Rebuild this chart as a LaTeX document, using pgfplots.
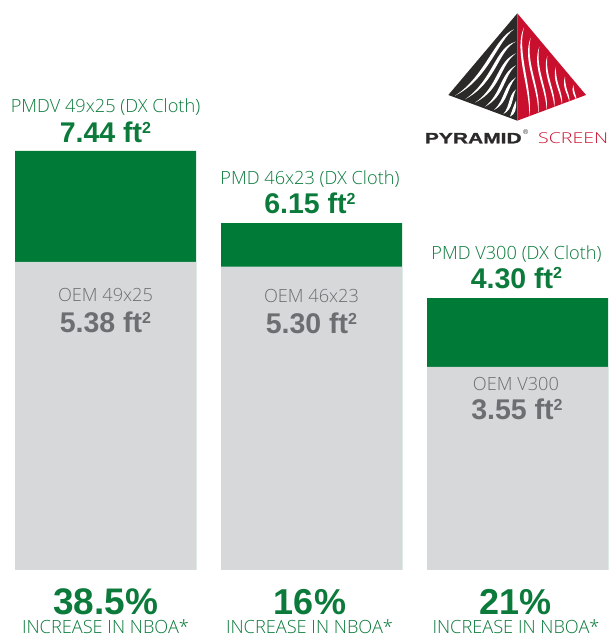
\documentclass[border=0pt]{standalone}
\usepackage{pgfplots}
\pgfplotsset{compat=1.18}
\usepackage{fontspec}
\setmainfont{Liberation Sans}
\newfontfamily\lightf{Open Sans Light}
\newfontfamily\heavyf[FakeBold=1.0]{Liberation Sans Bold}
\definecolor{pgreen}{HTML}{007A37}
\definecolor{tgreen}{HTML}{0B7A3B}
\definecolor{lgreen}{HTML}{0B7A3B}
\definecolor{pgray}{HTML}{D7D8DA}
\definecolor{tgray}{HTML}{6D6E71}
\definecolor{lgray}{HTML}{6D6E71}
\definecolor{pred}{HTML}{C8102E}
\definecolor{pblack}{HTML}{2B2A29}
\newcommand{\sq}{\raisebox{9.5pt}{\fontsize{16}{16}\selectfont 2}}
\newcommand{\thin}[3]{\node[anchor=base,text=#3,inner sep=0pt,font=\lightf\fontsize{18.2}{20}\selectfont] at (#1) {#2};}
\newcommand{\fat}[4]{\node[anchor=base,text=#3,inner sep=0pt,font=\bfseries\fontsize{#4}{30}\selectfont] at (#1) {#2};}
\newcommand{\streak}[8]{\fill[white] (#1,#2) .. controls (#3,#4) and (#5,#6) .. (#7,#8) .. controls (#5+10,#6+8) and (#3+10,#4+9) .. (#1,#2) -- cycle;}
\pgfplotstableread{
x pmd oem
0 7.32 5.38
1 6.06 5.30
2 4.75 3.55
}\nboa
\begin{document}
\begin{tikzpicture}[x=1pt,y=1pt]
\path[use as bounding box] (0,0) rectangle (610,637);
\begin{axis}[
  at={(0,0)},anchor=south west,scale only axis,width=610pt,height=637pt,
  xmin=-0.51214,xmax=2.44903,ymin=-1.1703,ymax=9.9563,
  axis lines=none,clip=false,
  ybar,bar width=181pt,bar shift=0pt]
\addplot[fill=pgreen,draw=none] table[x=x,y=pmd]{\nboa};
\addplot[fill=pgray,draw=none] table[x=x,y=oem]{\nboa};
\end{axis}
\begin{scope}[shift={(0,637)},y=-1pt]
\thin{105.5,112.7}{PMDV 49x25 (DX Cloth)}{lgreen}
\fat{105.5,142.6}{7.44 ft\sq}{tgreen}{28.5}
\thin{310,184.7}{PMD 46x23 (DX Cloth)}{lgreen}
\fat{310,213.6}{6.15 ft\sq}{tgreen}{28.5}
\thin{516.5,259.7}{PMD V300 (DX Cloth)}{lgreen}
\fat{516.5,288.5}{4.30 ft\sq}{tgreen}{28.5}
\thin{105.5,302}{OEM 49x25}{lgray}
\fat{105.5,333}{5.38 ft\sq}{tgray}{28.5}
\thin{311.5,303}{OEM 46x23}{lgray}
\fat{311.5,334}{5.30 ft\sq}{tgray}{28.5}
\thin{516,390.5}{OEM V300}{lgray}
\fat{517,420}{3.55 ft\sq}{tgray}{28.5}
\fat{105.5,614}{38.5\%}{tgreen}{37}
\fat{310,614}{16\%}{tgreen}{36}
\fat{515.5,614}{21\%}{tgreen}{36}
\thin{105.5,634}{INCREASE IN NBOA*}{lgreen}
\thin{309.5,634}{INCREASE IN NBOA*}{lgreen}
\thin{516,634}{INCREASE IN NBOA*}{lgreen}
\end{scope}
% logo
\begin{scope}[shift={(410,637)},x=0.33333pt,y=-0.33333pt]
\fill[pblack] (322,40) -- (115,285) -- (322,362) -- cycle;
\fill[pred] (322,40) -- (528,285) -- (322,362) -- cycle;
\streak{312}{88}{255}{110}{225}{230}{135}{287}
\streak{318}{125}{255}{140}{250}{240}{165}{298}
\streak{318}{160}{260}{185}{265}{260}{195}{308}
\streak{318}{196}{270}{220}{275}{280}{225}{320}
\streak{318}{232}{280}{255}{285}{300}{252}{330}
\streak{318}{268}{295}{285}{300}{320}{280}{342}
\streak{318}{302}{310}{320}{305}{335}{300}{350}
\streak{342}{82}{310}{150}{360}{260}{358}{352}
\streak{362}{113}{335}{180}{385}{260}{385}{342}
\streak{388}{140}{365}{200}{408}{265}{410}{332}
\streak{412}{168}{395}{220}{430}{270}{433}{323}
\streak{438}{200}{425}{240}{450}{270}{456}{313}
\streak{465}{230}{455}{260}{472}{280}{478}{305}
\streak{490}{255}{483}{275}{492}{285}{498}{298}
\node[anchor=base west,inner sep=0pt,text=pblack,font=\heavyf\fontsize{15}{16}\selectfont] at (44,430) {\scalebox{1.4}[1]{PYRAMID}};
\node[anchor=center,inner sep=0pt,text=pblack,font=\fontsize{7}{8}\selectfont] at (347,396) {\textregistered};
\node[anchor=base west,inner sep=0pt,text=pred,font=\lightf\fontsize{15}{16}\selectfont] at (384,430) {\scalebox{1.3}[1]{SCREEN}};
\end{scope}
\end{tikzpicture}
\end{document}
